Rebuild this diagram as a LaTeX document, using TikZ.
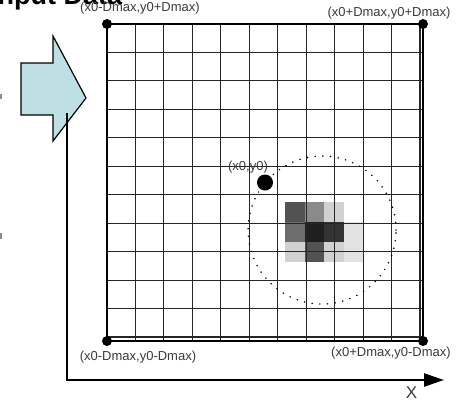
\documentclass[tikz,border=0pt]{standalone}
\usepackage{fontspec}
\setmainfont{Liberation Sans}
\usetikzlibrary{arrows.meta}
\definecolor{arrowcyan}{HTML}{BEE0E4}
\definecolor{labelgray}{HTML}{3A3A3A}
\begin{document}
\begin{tikzpicture}[x=1pt,y=-1pt,
  gridline/.style={black!85,line width=1.1pt},
  border/.style={black,line width=1.8pt},
  cdot/.style={circle,fill=black,inner sep=0pt,minimum size=10pt},
  bigdot/.style={circle,fill=black,inner sep=0pt,minimum size=16pt},
  clabel/.style={text=labelgray,inner sep=0pt,font=\fontsize{13}{15}\selectfont},
  axisline/.style={line width=2.4pt,-{Triangle[length=20pt,width=13pt]}},
  blockarrow/.style={fill=arrowcyan,draw=black,line width=1.2pt,line join=miter}]
\useasboundingbox (0,0) rectangle (462,402);
\clip (0,0) rectangle (462,402);
% title fragment
\node[anchor=base west,inner sep=0pt,font=\bfseries\fontsize{27}{29}\selectfont] (title) at (-10,4) {Input Data};
% fragments at left edge
\fill[black!45] (0,94) rectangle (1.5,99);
\fill[black!45] (0,233) rectangle (1.5,239);
% block arrow
\filldraw[blockarrow] (21,63) -- (53,63) -- (53,36) -- (86,98) -- (53,141) -- (53,115) -- (21,115) -- cycle;
% axes
\coordinate (ytop) at (67,113);
\coordinate (origin) at (67,380);
\coordinate (xend) at (444,380);
\draw[line width=2.4pt] (ytop) -- (origin);
\draw[axisline] ([xshift=-1.2pt]origin) -- (xend);
\node[text=labelgray,inner sep=0pt,font=\fontsize{17}{19}\selectfont] (xlab) at (411.5,393) {X};
% grid
\begin{scope}[shift={(107,24)},x=19.75pt,y=-19.8125pt]
  \fill[black!68] (9,9) rectangle (10,10);
  \fill[black!46] (10,9) rectangle (11,10);
  \fill[black!18] (11,9) rectangle (12,10);
  \fill[black!57] (9,10) rectangle (10,11);
  \fill[black!88] (10,10) rectangle (11,11);
  \fill[black!80] (11,10) rectangle (12,11);
  \fill[black!11] (12,10) rectangle (13,11);
  \fill[black!18] (9,11) rectangle (10,12);
  \fill[black!68] (10,11) rectangle (11,12);
  \fill[black!18] (11,11) rectangle (12,12);
  \fill[black!11] (12,11) rectangle (13,12);
  \draw[gridline] (0,0) grid (16,16);
  \draw[border] (0,0) rectangle (16,16);
  \draw[black,line width=1.7pt,line cap=round,dash pattern=on 0pt off 7.7pt] (10.89,10.4) circle[radius=74pt];
  \node[cdot] (tl) at (0,0) {};
  \node[cdot] (tr) at (16,0) {};
  \node[cdot] (bl) at (0,16) {};
  \node[cdot] (br) at (16,16) {};
  \node[bigdot] (c) at (8,8) {};
\end{scope}
% labels
\node[clabel] (ltl) at (140,8.5) {(x0-Dmax,y0+Dmax)};
\node[clabel] (ltr) at (389,13) {(x0+Dmax,y0+Dmax)};
\node[clabel] (lbl) at (138,357) {(x0-Dmax,y0-Dmax)};
\node[clabel] (lbr) at (391,353) {(x0+Dmax,y0-Dmax)};
\node[clabel] (lc) at (248,167) {(x0,y0)};
\end{tikzpicture}
\end{document}
